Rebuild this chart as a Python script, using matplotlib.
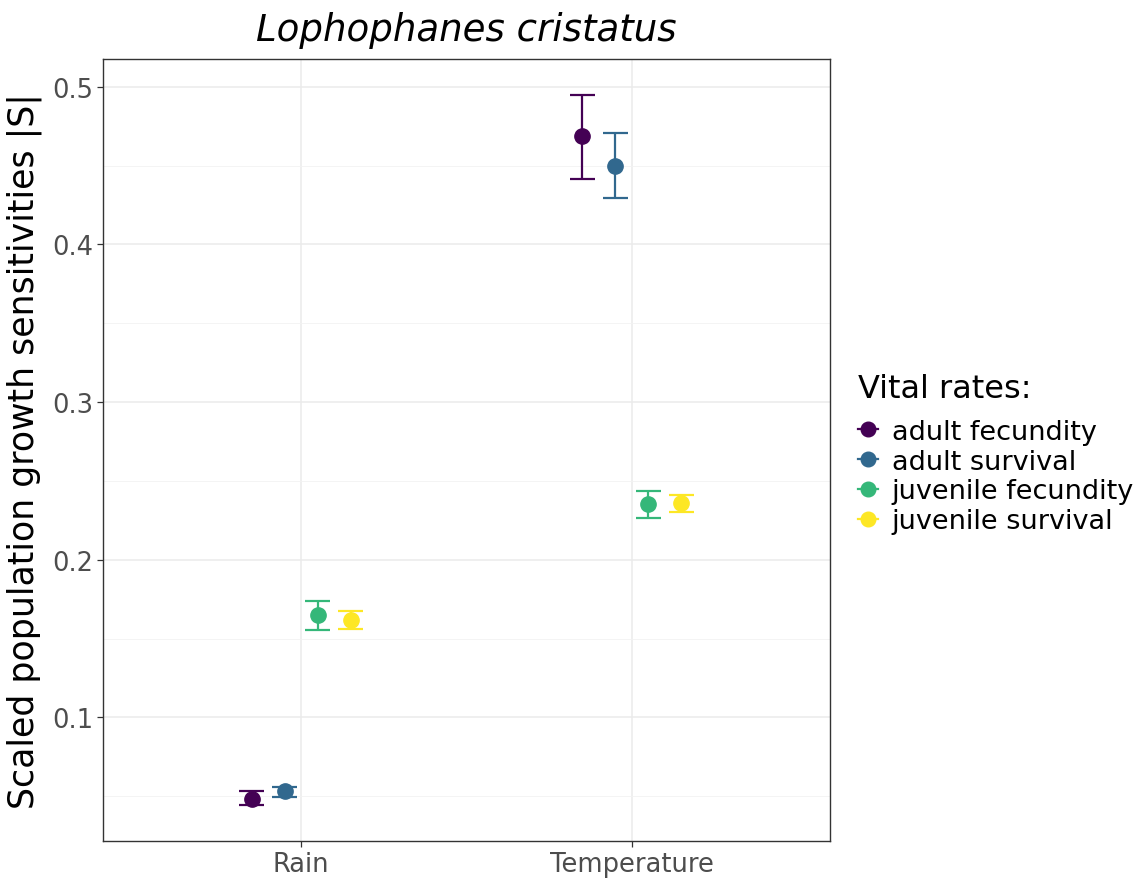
import numpy as np
import matplotlib
matplotlib.use("Agg")
import matplotlib.pyplot as plt
from matplotlib.lines import Line2D
from matplotlib.ticker import MultipleLocator

plt.rcParams["font.family"] = ["DejaVu Sans"]

# sensitivity estimates with lower/upper bounds, per covariate
covariates = ["Rain", "Temperature"]
vital_rates = ["adult fecundity", "adult survival", "juvenile fecundity", "juvenile survival"]
colors = ["#440154", "#31688E", "#35B779", "#FDE725"]

est = {
    "Rain":        [0.0486, 0.0531, 0.1647, 0.1615],
    "Temperature": [0.4684, 0.4500, 0.2351, 0.2363],
}
lower = {
    "Rain":        [0.0442, 0.0493, 0.1552, 0.1558],
    "Temperature": [0.4412, 0.4297, 0.2262, 0.2300],
}
upper = {
    "Rain":        [0.0531, 0.0556, 0.1736, 0.1672],
    "Temperature": [0.4950, 0.4703, 0.2439, 0.2408],
}

fig = plt.figure(figsize=(11.44, 8.79), dpi=100)
ax = fig.add_axes([103 / 1144, 1 - 842 / 879, 727 / 1144, 782 / 879])

dodge = 0.1
cap = 0.0375
for i, cov in enumerate(covariates):
    x0 = i + 1
    for j, vr in enumerate(vital_rates):
        x = x0 + (j - 1.5) * dodge
        lo, hi, m = lower[cov][j], upper[cov][j], est[cov][j]
        c = colors[j]
        ax.plot([x, x], [lo, hi], color=c, lw=1.6, zorder=3, solid_capstyle="butt")
        ax.plot([x - cap, x + cap], [lo, lo], color=c, lw=1.6, zorder=3, solid_capstyle="butt")
        ax.plot([x - cap, x + cap], [hi, hi], color=c, lw=1.6, zorder=3, solid_capstyle="butt")
        ax.plot(x, m, "o", color=c, markersize=11, zorder=4)

allv = np.concatenate([lower[c] for c in covariates] + [upper[c] for c in covariates])
span = allv.max() - allv.min()
ax.set_ylim(allv.min() - 0.05 * span, allv.max() + 0.05 * span)
ax.set_xlim(0.4, 2.6)
ax.set_xticks([1, 2])
ax.set_xticklabels(covariates)
ax.yaxis.set_major_locator(MultipleLocator(0.1))
ax.yaxis.set_minor_locator(MultipleLocator(0.05))

ax.grid(True, which="major", color="#EBEBEB", lw=1.1, zorder=0)
ax.grid(True, which="minor", axis="y", color="#F2F2F2", lw=0.6, zorder=0)
ax.set_axisbelow(True)
for s in ax.spines.values():
    s.set_color("#333333")
    s.set_linewidth(1.0)
ax.tick_params(axis="both", which="major", color="#333333", length=4, width=0.9,
               labelcolor="#4D4D4D", labelsize=18.5, pad=3)
ax.tick_params(axis="y", which="minor", length=0)

ax.set_ylabel("Scaled population growth sensitivities |S|", fontsize=25, labelpad=7)
ax.set_title("Lophophanes cristatus", fontsize=26.7, style="italic", pad=14)

# legend title placed on its own so the gap to the keys can be set
fig.text(858 / 1144, 1 - 398 / 879, "Vital rates:", fontsize=23, va="baseline", ha="left")
handles = [Line2D([], [], color=c, marker="o", lw=1.6, markersize=10.5) for c in colors]
leg = fig.legend(handles, vital_rates, loc="upper left",
                 bbox_to_anchor=(847 / 1144, 1 - 409 / 879), frameon=False,
                 fontsize=19.5, handlelength=0.75, handletextpad=0.5,
                 labelspacing=0.14, borderaxespad=0)

fig.savefig("out.png", dpi=100)
